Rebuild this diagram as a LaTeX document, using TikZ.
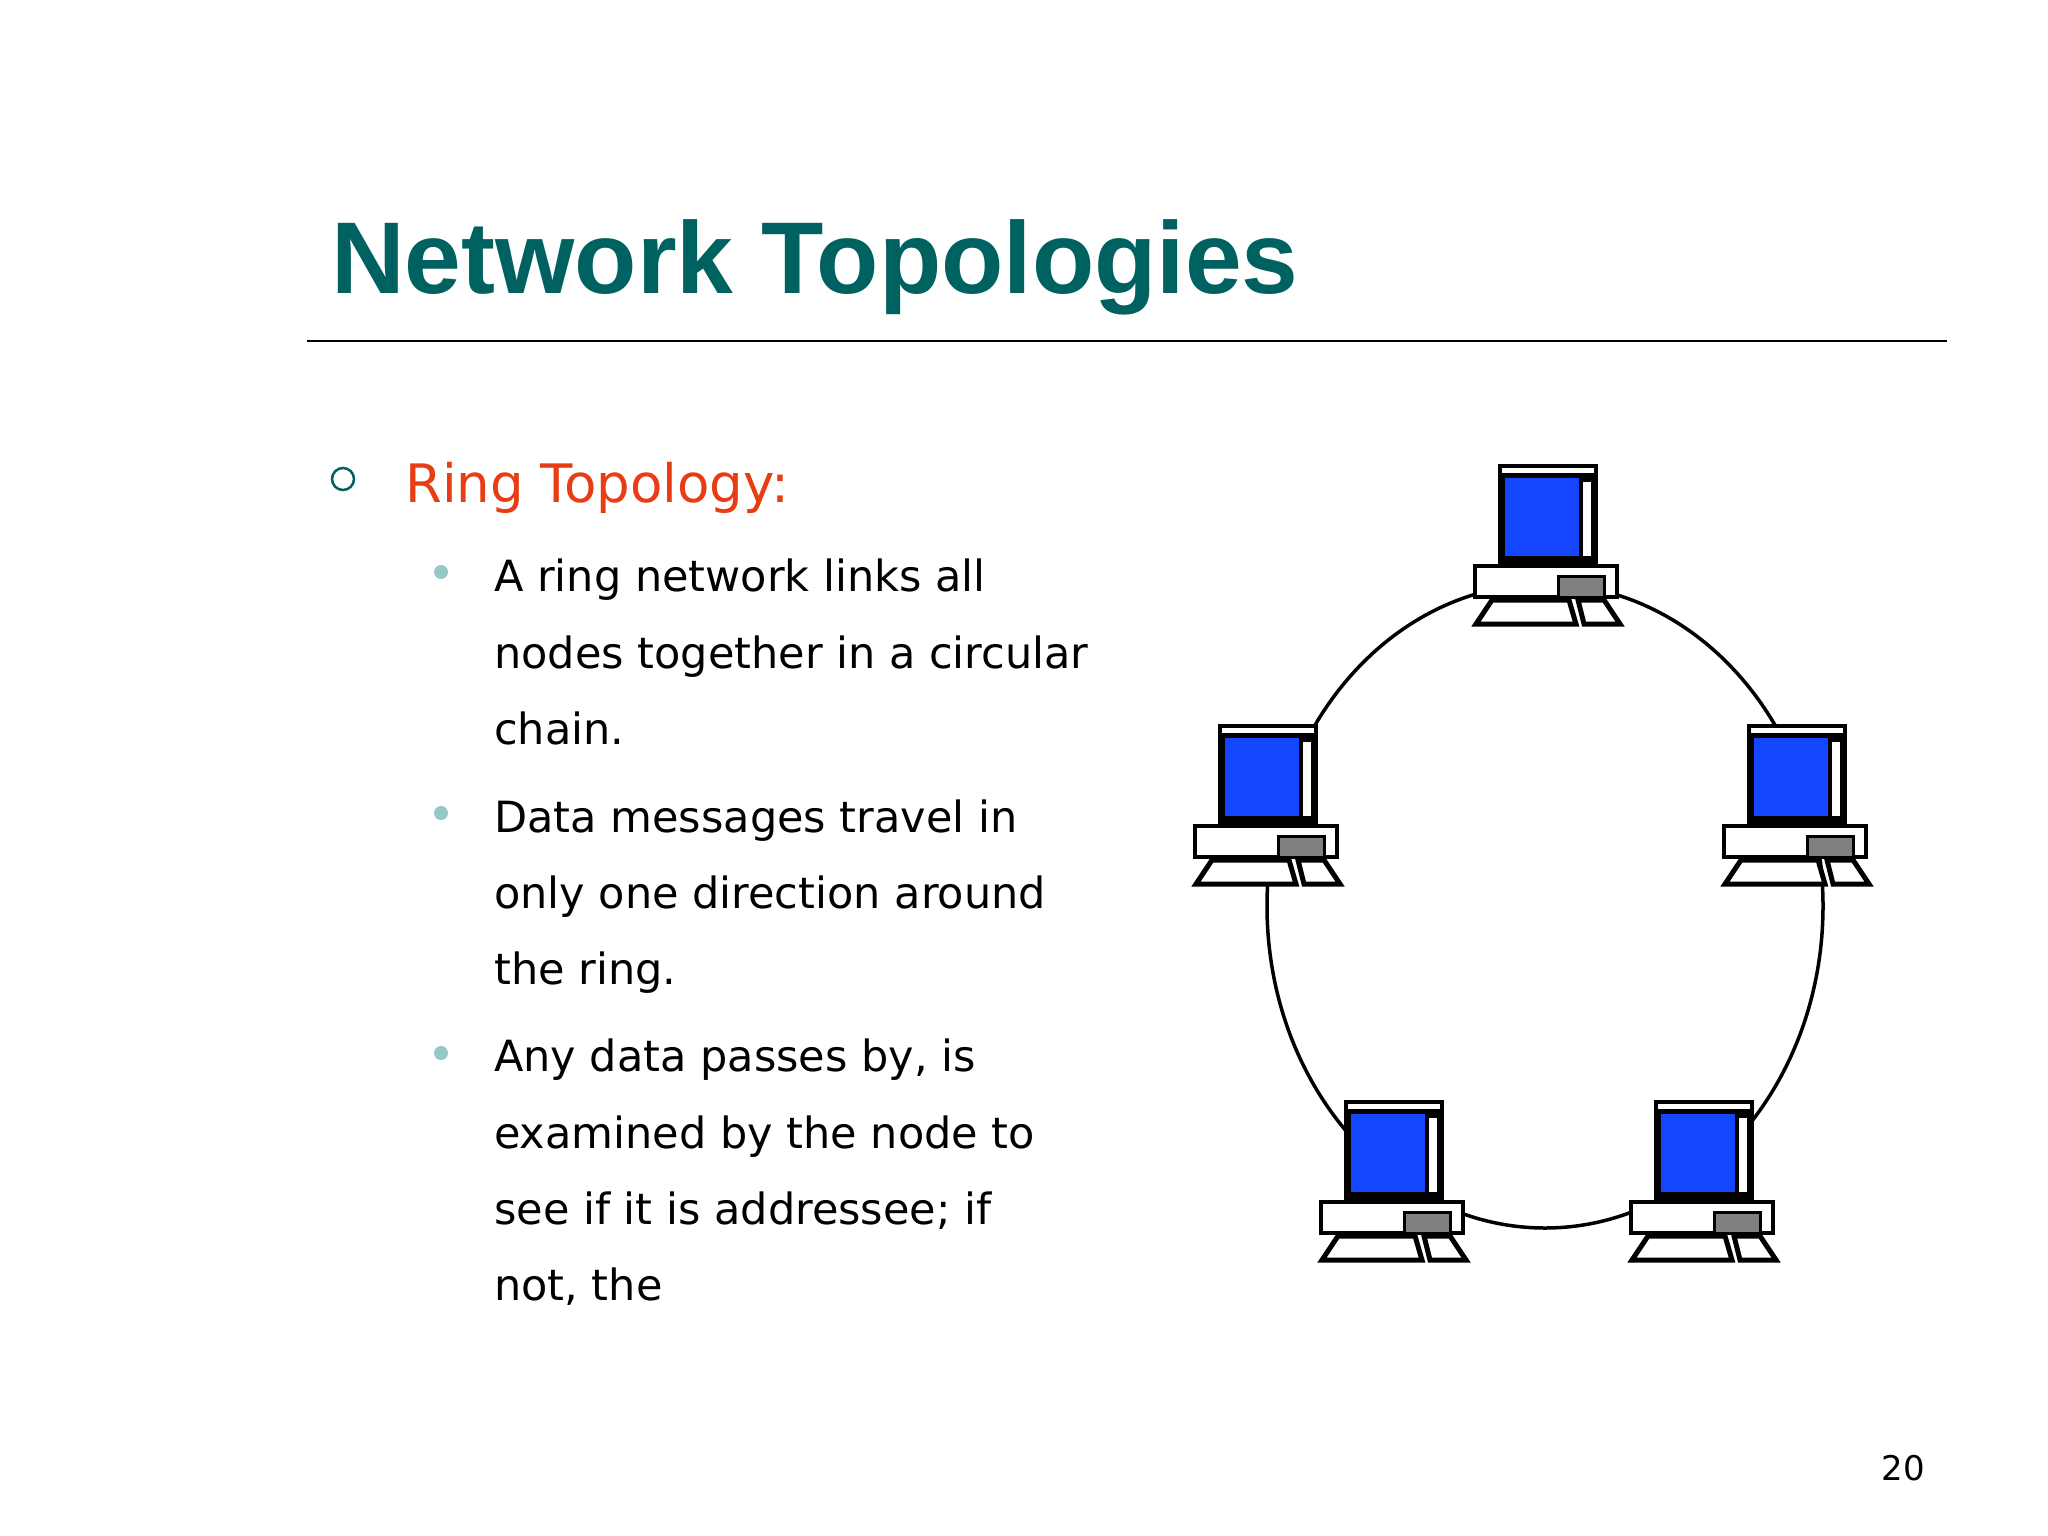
\documentclass[tikz,border=0pt]{standalone}
\usepackage{fontspec}
\setmainfont{DejaVu Sans}
\newfontfamily\titlefont{Liberation Sans}
\definecolor{teal1}{RGB}{0,98,96}
\definecolor{ora}{RGB}{232,60,20}
\definecolor{lteal}{RGB}{150,200,200}
\definecolor{scr}{RGB}{20,70,255}
\begin{document}
\begin{tikzpicture}[x=1pt,y=-1pt,
  body/.style={font=\fontsize{43}{50}\selectfont,anchor=base west,inner sep=0},
  dot/.style={circle,fill=lteal,minimum size=14pt,inner sep=0},
  pics/computer/.style={code={
    \fill[black] (0,0) rectangle (100,102);
    \fill[white] (4,4) rectangle (96,9);
    \fill[scr] (7,14) rectangle (81,92);
    \fill[white] (85,18) rectangle (93,92);
    \filldraw[white,draw=black,line width=4] (-23,102) rectangle (119,133);
    \filldraw[fill=gray,draw=black,line width=3] (60,112) rectangle (106,133);
    \filldraw[fill=white,draw=black,line width=5] (-6,136) -- (71,136) -- (78,160) -- (-22,160) -- cycle;
    \filldraw[fill=white,draw=black,line width=5] (80,136) -- (106,136) -- (122,160) -- (86,160) -- cycle;
  }}]
\useasboundingbox (0,0) rectangle (2048,1536);
\fill[white] (0,0) rectangle (2048,1536);
\node[font=\titlefont\bfseries\fontsize{102}{114}\selectfont,text=teal1,anchor=base west,inner sep=0] (title) at (331,293) {Network Topologies};
\draw[line width=2.5] (307,341) -- (1947,341);
\node[circle,draw=teal1,line width=2.5,minimum size=22pt,inner sep=0] (b0) at (343,479) {};
\node[font=\fontsize{53}{60}\selectfont,text=ora,anchor=base west,inner sep=0] (h) at (405,502) {Ring Topology:};
\node[dot] (d1) at (441,572) {};
\node[dot] (d2) at (441,813) {};
\node[dot] (d3) at (441,1053) {};
\node[body] at (494,591) {A ring network links all};
\node[body] at (494,668) {nodes together in a circular};
\node[body] at (494,744) {chain.};
\node[body] at (494,832) {Data messages travel in};
\node[body] at (494,908) {only one direction around};
\node[body] at (494,984) {the ring.};
\node[body] at (494,1071) {Any data passes by, is};
\node[body] at (494,1148) {examined by the node to};
\node[body] at (494,1224) {see if it is addressee; if};
\node[body] at (494,1300) {not, the};
\node[font=\fontsize{34}{40}\selectfont,anchor=base east,inner sep=0] (pg) at (1925,1480) {20};
\draw[line width=3.5] (1545,906) ellipse [x radius=278, y radius=322];
\pic at (1498,464) {computer};
\pic at (1218,724) {computer};
\pic at (1747,724) {computer};
\pic at (1344,1100) {computer};
\pic at (1654,1100) {computer};
\end{tikzpicture}
\end{document}
